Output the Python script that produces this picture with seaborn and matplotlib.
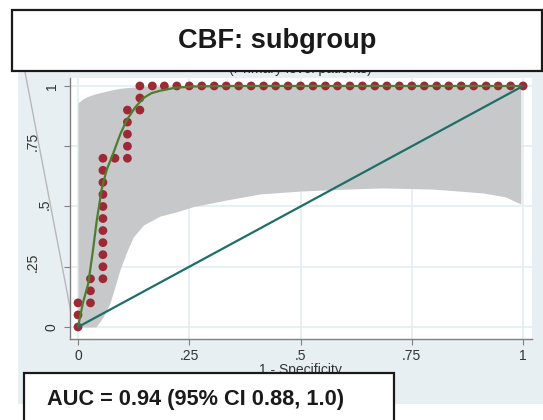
import numpy as np
import seaborn as sns
import matplotlib.pyplot as plt
from matplotlib.patches import Rectangle
from matplotlib.lines import Line2D
from matplotlib.transforms import blended_transform_factory

plt.rcParams['font.family'] = ['Liberation Sans', 'DejaVu Sans']

# empirical ROC points (1 - specificity, sensitivity)
roc_fpr = [0.0, 0.0, 0.0,
           0.028, 0.028, 0.028,
           0.056, 0.056, 0.056, 0.056, 0.056, 0.056, 0.056, 0.056, 0.056, 0.056, 0.056,
           0.083, 0.111, 0.111, 0.111, 0.111, 0.111,
           0.139, 0.139, 0.139,
           0.167, 0.194, 0.222, 0.25, 0.278, 0.306, 0.333, 0.361, 0.389, 0.417,
           0.444, 0.472, 0.5, 0.528, 0.556, 0.583, 0.611, 0.639, 0.667, 0.694,
           0.722, 0.75, 0.778, 0.806, 0.833, 0.861, 0.889, 0.917, 0.944, 0.972, 1.0]
roc_tpr = [0.0, 0.05, 0.1,
           0.1, 0.15, 0.2,
           0.2, 0.25, 0.3, 0.35, 0.4, 0.45, 0.5, 0.55, 0.6, 0.65, 0.7,
           0.7, 0.7, 0.75, 0.8, 0.85, 0.9,
           0.9, 0.95, 1.0,
           1.0, 1.0, 1.0, 1.0, 1.0, 1.0, 1.0, 1.0, 1.0, 1.0,
           1.0, 1.0, 1.0, 1.0, 1.0, 1.0, 1.0, 1.0, 1.0, 1.0,
           1.0, 1.0, 1.0, 1.0, 1.0, 1.0, 1.0, 1.0, 1.0, 1.0, 1.0]

# fitted (smooth) ROC curve
fit_x = [0, 0.011, 0.023, 0.033, 0.042, 0.053, 0.064, 0.079, 0.095, 0.11,
         0.128, 0.147, 0.165, 0.184, 0.22, 0.26, 0.35, 0.5, 0.75, 1.0]
fit_y = [0, 0.1, 0.18, 0.31, 0.44, 0.57, 0.65, 0.72, 0.8, 0.86,
         0.91, 0.95, 0.97, 0.98, 0.993, 0.998, 1.0, 1.0, 1.0, 1.0]

# confidence band of the fitted curve
band_x = [0, 0.01, 0.02, 0.03, 0.04, 0.056, 0.072, 0.083, 0.094, 0.109, 0.124,
          0.147, 0.184, 0.222, 0.26, 0.334, 0.409, 0.5, 0.6, 0.685, 0.8,
          0.91, 0.96, 0.995]
band_lo = [0, 0, 0, 0, 0, 0.04, 0.1, 0.167, 0.236, 0.31, 0.373,
           0.423, 0.46, 0.478, 0.5, 0.527, 0.552, 0.564, 0.572, 0.577, 0.572,
           0.556, 0.54, 0.51]
band_hi = [0.93, 0.945, 0.955, 0.962, 0.968, 0.975, 0.982, 0.986, 0.99, 0.993, 0.995,
           0.998, 1.0, 1.0, 1.0, 1.0, 1.0, 1.0, 1.0, 1.0, 1.0,
           1.0, 1.0, 1.0]

# reference line
diag_x = [0, 1]
diag_y = [0, 1]

ticks = [0, 0.25, 0.5, 0.75, 1]
tick_labels = ['0', '.25', '.5', '.75', '1']

W, H = 543, 420
fig = plt.figure(figsize=(W / 100, H / 100), dpi=100)
fig.patch.set_facecolor('white')

# light graph region behind the plot
fig.add_artist(Rectangle((18 / W, 1 - 404 / H), (W - 18) / W, (404 - 70) / H,
                         transform=fig.transFigure, facecolor='#e8eff2',
                         edgecolor='none', zorder=-2))
fig.add_artist(Line2D([25 / W, 72 / W], [1 - 72 / H, 1 - 318 / H],
                      transform=fig.transFigure, color='#b8b8b8', lw=1, zorder=-1))

ax = fig.add_axes([70 / W, 1 - 339 / H, 462 / W, 261 / H])
ax.set_facecolor('white')

ax.fill_between(band_x, band_lo, band_hi, color='#c7c8ca', lw=0, zorder=1)
sns.scatterplot(x=roc_fpr, y=roc_tpr, s=40, color='#9c2a36', edgecolor='none',
                zorder=3, ax=ax)
sns.lineplot(x=fit_x, y=fit_y, color='#4e7d2f', lw=1.6, estimator=None,
             sort=False, zorder=4, ax=ax)
sns.lineplot(x=diag_x, y=diag_y, color='#1e6f68', lw=1.6, estimator=None,
             zorder=4, ax=ax)

ax.set_xlim(-0.018, 1.020)
ax.set_ylim(-0.0498, 1.033)
ax.set_xticks(ticks)
ax.set_xticklabels(tick_labels)
ax.set_yticks(ticks)
ax.set_yticklabels([])
ax.grid(color='#e3edf0', lw=1.2)
ax.set_axisbelow(True)
for s in ['top', 'right']:
    ax.spines[s].set_visible(False)
for s in ['left', 'bottom']:
    ax.spines[s].set_color('#808080')
    ax.spines[s].set_linewidth(1)
ax.tick_params(direction='out', length=4, width=0.8, color='#808080',
               labelsize=10, labelcolor='#333333', pad=3)
ax.set_xlabel('')
ax.set_ylabel('')

# y tick labels (vertical, Stata style offsets)
ylab_x = [52, 33, 45, 33, 52]
ylab_dy = [0, -4.5, -2.5, -5, 0]
tr = blended_transform_factory(fig.transFigure, ax.transData)
for t, lab, px, dy in zip(ticks, tick_labels, ylab_x, ylab_dy):
    ax.text(px / W, t + (-dy) / 241, lab, transform=tr, rotation=90,
            ha='center', va='center', fontsize=10, color='#333333')

fig.text(300 / W, 1 - 363 / H, '1 - Specificity', ha='center', va='top',
         fontsize=10, color='#333333', zorder=2)
fig.text(300 / W, 1 - 73.5 / H, '(Primary level patients)', ha='center',
         va='baseline', fontsize=10, color='#333333', zorder=2)

# title box
fig.add_artist(Rectangle((12 / W, 1 - 71 / H), (541.5 - 12) / W, (71 - 10) / H,
                         transform=fig.transFigure, facecolor='white',
                         edgecolor='#1a1a1a', lw=1.6, zorder=5))
fig.text(277 / W, 1 - 48.5 / H, 'CBF: subgroup', ha='center', va='baseline',
         fontsize=19.6, fontweight='bold', color='#1a1a1a', zorder=6)

# AUC box
fig.add_artist(Rectangle((24 / W, -0.05), (394 - 24) / W, (1 - 373 / H) + 0.05,
                         transform=fig.transFigure, facecolor='white',
                         edgecolor='#1a1a1a', lw=1.6, zorder=5))
fig.text(47 / W, 1 - 405.5 / H, 'AUC = 0.94 (95% CI 0.88, 1.0)', ha='left',
         va='baseline', fontsize=15.7, fontweight='bold', color='#1a1a1a', zorder=6)

fig.savefig('out.png', dpi=100)
